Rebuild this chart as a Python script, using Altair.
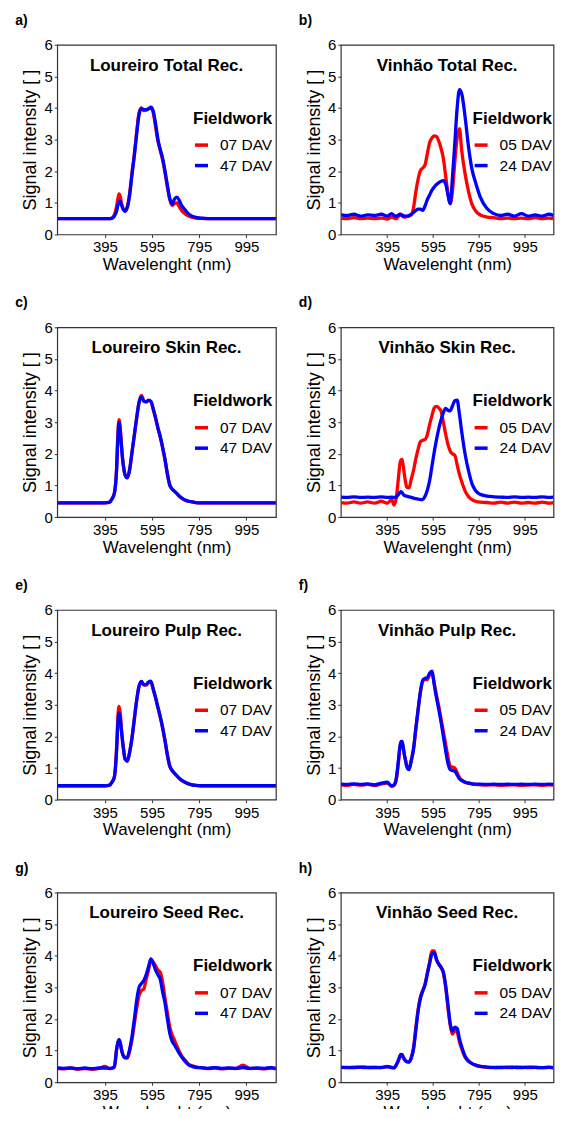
import altair as alt
import pandas as pd

# shared wavelength grid (nm)
WAVELENGTH = [195, 220, 250, 280, 310, 340, 370, 395,
              415, 425, 435, 445, 450, 455, 460, 465, 470, 475, 480,
              490, 500, 510, 520, 530, 540, 550, 560, 570, 580, 590, 600,
              610, 620, 630, 640, 650, 660, 670, 680, 690, 700, 710, 720,
              735, 750, 765, 780, 800,
              830, 860, 890, 920, 950, 980, 1010, 1040, 1070, 1100, 1120]

# a) Loureiro Total Rec.
A_07 = [0.50, 0.50, 0.50, 0.50, 0.50, 0.50, 0.50, 0.50,
        0.50, 0.52, 0.62, 0.90, 1.12, 1.28, 1.20, 1.00, 0.86, 0.78, 0.75,
        0.88, 1.30, 1.95, 2.55, 3.25, 3.85, 4.00, 3.92, 3.93, 3.97, 4.00, 3.85,
        3.40, 2.95, 2.65, 2.35, 1.95, 1.50, 1.10, 0.92, 0.98, 1.00, 0.88, 0.76,
        0.65, 0.58, 0.54, 0.52, 0.51,
        0.50, 0.50, 0.50, 0.50, 0.50, 0.50, 0.50, 0.50, 0.50, 0.50, 0.50]
A_47 = [0.50, 0.50, 0.50, 0.50, 0.50, 0.50, 0.50, 0.50,
        0.50, 0.51, 0.58, 0.75, 0.92, 1.03, 1.05, 0.95, 0.84, 0.77, 0.73,
        0.85, 1.25, 1.90, 2.50, 3.20, 3.80, 3.98, 3.95, 3.95, 3.98, 4.03, 3.90,
        3.50, 3.00, 2.68, 2.40, 2.00, 1.55, 1.15, 0.95, 1.12, 1.18, 1.08, 0.92,
        0.78, 0.65, 0.58, 0.54, 0.52,
        0.50, 0.50, 0.50, 0.50, 0.50, 0.50, 0.50, 0.50, 0.50, 0.50, 0.50]

# b) Vinhão Total Rec.
B_05 = [0.52, 0.50, 0.53, 0.50, 0.52, 0.50, 0.52, 0.49,
        0.55, 0.52, 0.50, 0.58, 0.62, 0.64, 0.60, 0.56, 0.55, 0.55, 0.57,
        0.58, 0.62, 0.85, 1.35, 1.75, 2.02, 2.10, 2.20, 2.55, 2.90, 3.05, 3.12,
        3.10, 2.95, 2.72, 2.40, 1.85, 1.30, 0.98, 1.40, 2.30, 3.05, 3.35, 2.65,
        1.90, 1.35, 0.95, 0.75, 0.62,
        0.55, 0.53, 0.50, 0.52, 0.50, 0.52, 0.50, 0.53, 0.50, 0.52, 0.50]
B_24 = [0.62, 0.60, 0.64, 0.58, 0.62, 0.60, 0.64, 0.58,
        0.66, 0.60, 0.58, 0.62, 0.64, 0.62, 0.60, 0.60, 0.58, 0.58, 0.58,
        0.60, 0.64, 0.70, 0.76, 0.80, 0.80, 0.76, 0.90, 1.10, 1.25, 1.40, 1.50,
        1.58, 1.64, 1.68, 1.70, 1.60, 1.25, 0.97, 1.85, 2.90, 4.00, 4.58, 4.45,
        3.70, 2.75, 2.05, 1.65, 1.20,
        0.82, 0.66, 0.60, 0.64, 0.58, 0.66, 0.58, 0.62, 0.58, 0.64, 0.60]

# c) Loureiro Skin Rec.
C_07 = [0.45, 0.45, 0.45, 0.45, 0.45, 0.45, 0.45, 0.45,
        0.47, 0.58, 0.75, 1.60, 2.60, 3.08, 2.80, 2.30, 1.85, 1.55, 1.35,
        1.25, 1.50, 2.05, 2.60, 3.15, 3.65, 3.85, 3.68, 3.64, 3.68, 3.66, 3.40,
        3.12, 2.80, 2.52, 2.18, 1.80, 1.35, 1.00, 0.88, 0.81, 0.74, 0.66, 0.60,
        0.53, 0.50, 0.48, 0.46, 0.45,
        0.45, 0.45, 0.45, 0.45, 0.45, 0.45, 0.45, 0.45, 0.45, 0.45, 0.45]
C_47 = [0.45, 0.45, 0.45, 0.45, 0.45, 0.45, 0.45, 0.45,
        0.47, 0.57, 0.74, 1.55, 2.50, 3.00, 2.75, 2.28, 1.84, 1.54, 1.34,
        1.24, 1.50, 2.05, 2.60, 3.15, 3.62, 3.80, 3.66, 3.64, 3.70, 3.66, 3.42,
        3.14, 2.82, 2.54, 2.20, 1.82, 1.37, 1.02, 0.89, 0.82, 0.75, 0.67, 0.61,
        0.54, 0.50, 0.48, 0.46, 0.45,
        0.45, 0.45, 0.45, 0.45, 0.45, 0.45, 0.45, 0.45, 0.45, 0.45, 0.45]

# d) Vinhão Skin Rec.
D_05 = [0.46, 0.44, 0.48, 0.44, 0.48, 0.44, 0.50, 0.44,
        0.55, 0.38, 0.62, 1.30, 1.65, 1.80, 1.82, 1.62, 1.35, 1.12, 0.95,
        0.92, 1.20, 1.48, 1.85, 2.15, 2.38, 2.43, 2.45, 2.60, 2.92, 3.20, 3.45,
        3.50, 3.45, 3.35, 3.00, 2.62, 2.30, 2.08, 2.00, 1.95, 1.65, 1.35, 1.12,
        0.82, 0.64, 0.55, 0.50, 0.47,
        0.46, 0.44, 0.47, 0.44, 0.47, 0.44, 0.46, 0.44, 0.47, 0.44, 0.46]
D_24 = [0.63, 0.62, 0.64, 0.62, 0.63, 0.62, 0.64, 0.62,
        0.63, 0.62, 0.64, 0.72, 0.77, 0.80, 0.77, 0.72, 0.68, 0.67, 0.66,
        0.64, 0.62, 0.60, 0.58, 0.57, 0.55, 0.56, 0.66, 0.85, 1.15, 1.60, 2.05,
        2.45, 2.80, 3.08, 3.30, 3.44, 3.38, 3.36, 3.52, 3.68, 3.70, 3.25, 2.70,
        1.98, 1.45, 1.05, 0.84, 0.72,
        0.66, 0.64, 0.63, 0.62, 0.64, 0.62, 0.63, 0.62, 0.64, 0.62, 0.63]

# e) Loureiro Pulp Rec.
E_07 = [0.44, 0.44, 0.44, 0.44, 0.44, 0.44, 0.44, 0.44,
        0.46, 0.56, 0.72, 1.70, 2.60, 2.95, 2.75, 2.25, 1.85, 1.55, 1.30,
        1.22, 1.50, 1.95, 2.55, 3.15, 3.58, 3.72, 3.63, 3.62, 3.70, 3.73, 3.48,
        3.21, 2.90, 2.60, 2.25, 1.85, 1.40, 1.05, 0.92, 0.83, 0.75, 0.67, 0.61,
        0.55, 0.50, 0.47, 0.45, 0.44,
        0.44, 0.44, 0.44, 0.44, 0.44, 0.44, 0.44, 0.44, 0.44, 0.44, 0.44]
E_47 = [0.44, 0.44, 0.44, 0.44, 0.44, 0.44, 0.44, 0.44,
        0.46, 0.55, 0.70, 1.60, 2.40, 2.75, 2.60, 2.20, 1.84, 1.54, 1.30,
        1.22, 1.50, 1.96, 2.56, 3.16, 3.60, 3.74, 3.64, 3.64, 3.72, 3.75, 3.50,
        3.23, 2.92, 2.62, 2.27, 1.87, 1.42, 1.07, 0.93, 0.84, 0.76, 0.68, 0.62,
        0.55, 0.50, 0.47, 0.45, 0.44,
        0.44, 0.44, 0.44, 0.44, 0.44, 0.44, 0.44, 0.44, 0.44, 0.44, 0.44]

# f) Vinhão Pulp Rec.
F_05 = [0.47, 0.45, 0.48, 0.46, 0.48, 0.45, 0.50, 0.52,
        0.42, 0.45, 0.65, 1.25, 1.60, 1.80, 1.82, 1.65, 1.42, 1.25, 1.08,
        0.97, 1.25, 1.62, 2.25, 2.85, 3.40, 3.74, 3.80, 3.80, 3.95, 4.02, 3.68,
        3.30, 2.95, 2.55, 2.15, 1.75, 1.35, 1.05, 1.03, 1.00, 0.85, 0.70, 0.62,
        0.55, 0.52, 0.50, 0.48, 0.47,
        0.46, 0.47, 0.45, 0.46, 0.47, 0.45, 0.46, 0.47, 0.45, 0.47, 0.46]
F_24 = [0.49, 0.48, 0.50, 0.48, 0.50, 0.47, 0.52, 0.55,
        0.44, 0.47, 0.68, 1.30, 1.65, 1.84, 1.84, 1.66, 1.42, 1.24, 1.06,
        0.95, 1.22, 1.60, 2.25, 2.85, 3.42, 3.78, 3.83, 3.86, 4.00, 4.06, 3.65,
        3.22, 2.85, 2.45, 2.00, 1.55, 1.15, 0.95, 0.92, 0.90, 0.78, 0.66, 0.60,
        0.55, 0.52, 0.50, 0.49, 0.49,
        0.48, 0.49, 0.48, 0.49, 0.48, 0.49, 0.48, 0.49, 0.48, 0.49, 0.48]

# g) Loureiro Seed Rec.
G_07 = [0.44, 0.42, 0.45, 0.41, 0.43, 0.41, 0.44, 0.50,
        0.43, 0.44, 0.48, 1.05, 1.25, 1.34, 1.25, 1.05, 0.90, 0.80, 0.77,
        0.76, 0.98, 1.35, 1.85, 2.35, 2.75, 2.90, 2.95, 3.25, 3.55, 3.85, 3.80,
        3.68, 3.55, 3.48, 3.15, 2.65, 2.20, 1.75, 1.50, 1.33, 1.15, 0.98, 0.84,
        0.70, 0.57, 0.52, 0.49, 0.46,
        0.43, 0.45, 0.42, 0.44, 0.43, 0.54, 0.43, 0.44, 0.42, 0.45, 0.42]
G_47 = [0.45, 0.44, 0.45, 0.43, 0.45, 0.43, 0.45, 0.45,
        0.44, 0.45, 0.48, 1.05, 1.25, 1.35, 1.25, 1.05, 0.90, 0.82, 0.78,
        0.80, 1.05, 1.45, 2.00, 2.60, 3.00, 3.12, 3.22, 3.40, 3.65, 3.90, 3.75,
        3.55, 3.40, 3.25, 2.85, 2.50, 2.00, 1.55, 1.30, 1.18, 1.05, 0.92, 0.80,
        0.66, 0.55, 0.50, 0.47, 0.46,
        0.44, 0.46, 0.44, 0.45, 0.44, 0.46, 0.44, 0.45, 0.44, 0.46, 0.44]

# h) Vinhão Seed Rec.
H_05 = [0.47, 0.46, 0.48, 0.47, 0.46, 0.48, 0.46, 0.50,
        0.46, 0.45, 0.55, 0.70, 0.80, 0.87, 0.88, 0.80, 0.74, 0.69, 0.65,
        0.64, 0.78, 1.10, 1.72, 2.30, 2.70, 2.90, 3.10, 3.45, 3.80, 4.15, 4.15,
        3.88, 3.72, 3.62, 3.45, 3.00, 2.35, 1.80, 1.52, 1.65, 1.58, 1.28, 1.05,
        0.78, 0.66, 0.59, 0.54, 0.50,
        0.47, 0.46, 0.48, 0.46, 0.47, 0.48, 0.46, 0.47, 0.46, 0.48, 0.45]
H_24 = [0.47, 0.47, 0.46, 0.48, 0.47, 0.46, 0.47, 0.49,
        0.47, 0.46, 0.55, 0.72, 0.82, 0.88, 0.87, 0.78, 0.72, 0.68, 0.65,
        0.64, 0.76, 1.05, 1.65, 2.25, 2.65, 2.88, 3.08, 3.42, 3.75, 4.05, 4.10,
        3.88, 3.74, 3.64, 3.48, 3.05, 2.45, 1.85, 1.62, 1.74, 1.70, 1.38, 1.12,
        0.82, 0.67, 0.59, 0.54, 0.50,
        0.48, 0.47, 0.46, 0.48, 0.47, 0.46, 0.48, 0.47, 0.46, 0.47, 0.46]

PANELS = [
    ("a)", "Loureiro Total Rec.", "07 DAV", A_07, "47 DAV", A_47),
    ("b)", "Vinhão Total Rec.", "05 DAV", B_05, "24 DAV", B_24),
    ("c)", "Loureiro Skin Rec.", "07 DAV", C_07, "47 DAV", C_47),
    ("d)", "Vinhão Skin Rec.", "05 DAV", D_05, "24 DAV", D_24),
    ("e)", "Loureiro Pulp Rec.", "07 DAV", E_07, "47 DAV", E_47),
    ("f)", "Vinhão Pulp Rec.", "05 DAV", F_05, "24 DAV", F_24),
    ("g)", "Loureiro Seed Rec.", "07 DAV", G_07, "47 DAV", G_47),
    ("h)", "Vinhão Seed Rec.", "05 DAV", H_05, "24 DAV", H_24),
]

X_DOMAIN = [193, 1120]
X_TICKS = [395, 595, 795, 995]
Y_TICKS = [0, 1, 2, 3, 4, 5, 6]
RED = "#ff0000"
BLUE = "#0000ff"
FONT = "Liberation Sans"
H = 190
COL_W = [219, 213]
COL_LEGX = [136, 132]


def panel(col, label, title, n1, y1, n2, y2):
    w = COL_W[col]
    n = len(WAVELENGTH)
    df = pd.DataFrame({
        "wl": WAVELENGTH + WAVELENGTH,
        "v": y1 + y2,
        "series": [n1] * n + [n2] * n,
    })
    lines = alt.Chart(df).mark_line(strokeWidth=3.3, interpolate="monotone", clip=True).encode(
        x=alt.X("wl:Q",
                scale=alt.Scale(domain=X_DOMAIN, nice=False, zero=False),
                axis=alt.Axis(values=X_TICKS, title="Wavelenght (nm)")),
        y=alt.Y("v:Q",
                scale=alt.Scale(domain=[0, 6], nice=False),
                axis=alt.Axis(values=Y_TICKS, title="Signal intensity [ ]")),
        color=alt.Color("series:N",
                        scale=alt.Scale(domain=[n1, n2], range=[RED, BLUE]),
                        legend=alt.Legend(title="Fieldwork", orient="none",
                                          legendX=COL_LEGX[col], legendY=66)),
    )
    txt = alt.Chart(pd.DataFrame({"t": [title]})).mark_text(
        font=FONT, fontWeight="bold", fontSize=17, color="black", align="center",
        baseline="middle"
    ).encode(text="t:N", x=alt.value(w / 2), y=alt.value(21))
    return alt.layer(lines, txt).properties(
        width=w, height=H,
        title=alt.TitleParams(label, anchor="start", frame="group", dx=-42, offset=10,
                              fontSize=14, fontWeight="bold", font=FONT, color="black"),
    )


rows = []
for i in range(0, 8, 2):
    row = alt.hconcat(panel(0, *PANELS[i]), panel(1, *PANELS[i + 1]),
                      spacing=21).resolve_scale(color="independent")
    rows.append(row)

chart = alt.vconcat(*rows, spacing=22).resolve_scale(color="independent").properties(
    padding={"left": 6.3, "top": 4, "right": 0.5, "bottom": -13}
).configure(font=FONT).configure_view(
    stroke="#333333", strokeWidth=1.2
).configure_axis(
    labelFont=FONT, titleFont=FONT, labelFontSize=15, labelColor="black",
    titleColor="black", titleFontWeight="normal", tickColor="#333333", tickSize=3,
    labelPadding=2, domain=False, grid=False
).configure_axisX(
    titleFontSize=17, titlePadding=1.5, labelPadding=2.5
).configure_axisY(
    titleFontSize=18, titlePadding=4
).configure_legend(
    titleFont=FONT, labelFont=FONT, titleFontSize=17, titleFontWeight="bold",
    titleColor="black", labelColor="black", labelFontSize=15.5,
    symbolType="stroke", symbolStrokeWidth=3.5, symbolSize=169, labelOffset=10,
    titlePadding=9, rowPadding=3.5, padding=0
)

chart.save("out.html", embed_options={"renderer": "svg", "actions": False})
